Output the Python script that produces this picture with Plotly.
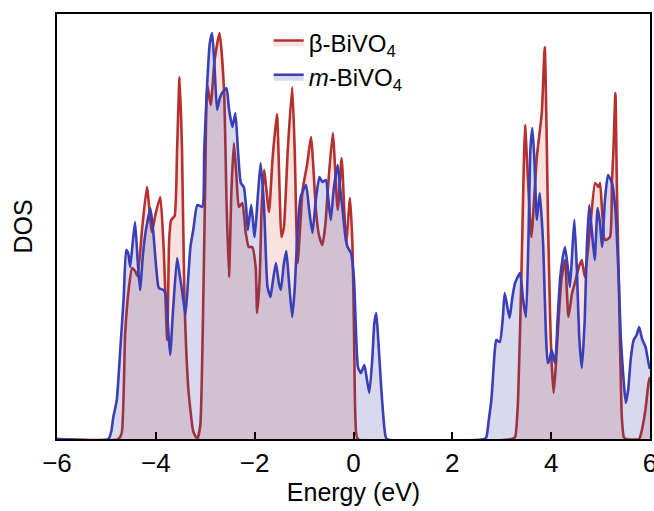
import plotly.graph_objects as go

# beta-BiVO4 density of states (energy in eV, DOS in arb. units)
beta_energy = [
    -6.00, -4.76, -4.69, -4.62, -4.55, -4.48, -4.42, -4.37, -4.28, -4.18,
    -4.08, -4.01, -3.91, -3.84, -3.77, -3.73, -3.69, -3.62, -3.57, -3.52,
    -3.47, -3.42, -3.34, -3.24, -3.16, -3.10, -3.05, -3.00, -2.96, -2.89,
    -2.81, -2.71, -2.62, -2.57, -2.52, -2.47, -2.42, -2.37, -2.32, -2.25,
    -2.18, -2.12, -2.05, -1.98, -1.95, -1.90, -1.86, -1.81, -1.71, -1.64,
    -1.55, -1.49, -1.46, -1.41, -1.33, -1.24, -1.19, -1.13, -1.03, -0.94,
    -0.86, -0.76, -0.70, -0.63, -0.57, -0.52, -0.42, -0.32, -0.24, -0.15,
    -0.07, -0.02, 0.01, 0.04, 0.09,
    3.20, 3.27, 3.33, 3.40, 3.44, 3.47, 3.53, 3.60, 3.71, 3.81,
    3.87, 3.94, 3.98, 4.01, 4.05, 4.09, 4.15, 4.21, 4.28, 4.35,
    4.42, 4.48, 4.56, 4.62, 4.68, 4.79, 4.89, 4.96, 4.99, 5.09,
    5.19, 5.23, 5.26, 5.30, 5.33, 5.37, 5.43, 5.47, 5.51, 5.78,
    5.84, 5.91, 5.97, 6.00,
]
beta_dos = [
    0.00, 0.00, 0.06, 1.06, 1.49, 1.71, 1.68, 1.63, 2.09, 2.52,
    2.07, 2.24, 2.42, 1.89, 0.99, 1.99, 2.19, 2.23, 2.89, 3.62,
    2.89, 1.39, 0.49, 0.07, 0.00, 0.14, 1.09, 2.59, 3.54, 3.34,
    3.79, 4.06, 3.49, 2.39, 1.62, 2.49, 2.96, 2.64, 2.32, 2.36,
    2.06, 1.92, 1.92, 1.72, 1.26, 1.59, 2.29, 2.69, 2.27, 2.79,
    3.25, 2.39, 2.02, 2.11, 2.89, 3.52, 2.89, 1.76, 2.49, 2.74,
    3.02, 2.29, 2.04, 1.94, 2.14, 2.49, 3.06, 2.29, 2.81, 1.96,
    2.41, 1.92, 1.09, 0.19, 0.00,
    0.00, 0.02, 0.39, 1.70, 2.60, 3.14, 2.60, 2.02, 2.82, 3.26,
    3.92, 2.09, 1.20, 0.76, 0.46, 0.70, 1.20, 1.60, 1.79, 1.22,
    1.45, 1.56, 1.72, 1.79, 1.62, 2.12, 2.56, 2.52, 2.56, 1.99,
    2.02, 2.56, 2.89, 3.46, 2.50, 1.56, 0.22, 0.02, 0.00, 0.00,
    0.10, 0.30, 0.56, 0.62,
]

# m-BiVO4 density of states
m_energy = [
    -6.00, -4.96, -4.90, -4.86, -4.79, -4.72, -4.65, -4.60, -4.56, -4.52,
    -4.47, -4.42, -4.37, -4.32, -4.26, -4.21, -4.11, -4.05, -3.99, -3.94,
    -3.84, -3.79, -3.75, -3.71, -3.65, -3.57, -3.52, -3.47, -3.40, -3.34,
    -3.30, -3.24, -3.16, -3.06, -3.02, -2.96, -2.91, -2.86, -2.81, -2.76,
    -2.71, -2.66, -2.57, -2.52, -2.45, -2.39, -2.34, -2.28, -2.22, -2.17,
    -2.14, -2.07, -2.00, -1.94, -1.88, -1.81, -1.74, -1.68, -1.64, -1.57,
    -1.51, -1.47, -1.41, -1.36, -1.31, -1.24, -1.19, -1.13, -1.07, -0.96,
    -0.90, -0.83, -0.76, -0.69, -0.63, -0.56, -0.51, -0.46, -0.40, -0.32,
    -0.27, -0.22, -0.17, -0.12, -0.05, 0.01, 0.09, 0.15, 0.22, 0.27,
    0.32, 0.38, 0.42, 0.46, 0.50, 0.56, 0.63, 0.67,
    2.65, 2.69, 2.74, 2.79, 2.86, 2.89, 2.96, 3.02, 3.06, 3.12,
    3.16, 3.21, 3.27, 3.37, 3.43, 3.49, 3.54, 3.58, 3.62, 3.66,
    3.71, 3.77, 3.84, 3.89, 3.93, 3.97, 4.01, 4.08, 4.13, 4.18,
    4.23, 4.28, 4.34, 4.38, 4.43, 4.47, 4.52, 4.57, 4.62, 4.68,
    4.72, 4.77, 4.82, 4.88, 4.94, 4.99, 5.03, 5.09, 5.15, 5.23,
    5.30, 5.37, 5.41, 5.47, 5.51, 5.56, 5.61, 5.67, 5.73, 5.78,
    5.84, 5.91, 5.97, 6.00,
]
m_dos = [
    0.00, 0.00, 0.08, 0.22, 0.39, 0.89, 1.42, 1.89, 1.86, 1.72,
    1.95, 2.17, 1.80, 1.49, 1.85, 2.06, 2.31, 2.06, 1.70, 1.51,
    1.49, 1.42, 1.10, 0.84, 1.30, 1.81, 1.65, 1.49, 1.24, 1.65,
    1.92, 2.10, 2.34, 2.32, 2.90, 3.56, 3.95, 4.06, 3.70, 3.29,
    3.40, 3.46, 3.51, 3.30, 3.12, 3.26, 2.90, 2.56, 2.52, 2.30,
    2.09, 2.34, 2.02, 2.40, 2.76, 2.32, 1.52, 1.42, 1.55, 1.76,
    1.56, 1.49, 1.75, 1.88, 1.60, 1.22, 1.50, 2.10, 2.42, 2.54,
    2.30, 2.06, 2.40, 2.62, 2.57, 2.59, 2.40, 2.19, 2.50, 2.74,
    2.50, 2.29, 2.05, 1.92, 1.86, 1.60, 0.72, 0.66, 0.74, 0.60,
    0.46, 0.80, 1.15, 1.26, 1.00, 0.52, 0.09, 0.00,
    0.00, 0.02, 0.20, 0.39, 0.89, 0.99, 0.97, 1.20, 1.46, 1.30,
    1.21, 1.40, 1.56, 1.66, 1.40, 1.22, 2.00, 2.90, 3.11, 2.80,
    2.19, 2.46, 1.92, 1.10, 0.76, 0.80, 0.89, 0.76, 1.20, 1.60,
    1.80, 1.92, 1.70, 1.52, 1.90, 2.19, 1.70, 1.00, 0.71, 1.20,
    1.90, 2.34, 2.10, 1.79, 2.31, 2.15, 1.92, 2.40, 2.64, 2.56,
    2.29, 1.56, 1.00, 0.56, 0.36, 0.50, 0.80, 0.99, 1.04, 1.12,
    1.00, 0.92, 0.76, 0.70,
]

x_ticks = [-6, -4, -2, 0, 2, 4, 6]

red = "#b5302e"
blue = "#3a3fb8"
font = "Liberation Sans, Arial, Helvetica, sans-serif"

fig = go.Figure()
fig.add_trace(go.Scatter(
    x=beta_energy, y=beta_dos, mode="lines", name="β-BiVO<sub>4</sub>",
    line=dict(color=red, width=2.6, shape="spline", smoothing=0.5),
    fill="tozeroy", fillcolor="rgba(200,60,50,0.15)",
))
fig.add_trace(go.Scatter(
    x=m_energy, y=m_dos, mode="lines", name="<i>m</i>-BiVO<sub>4</sub>",
    line=dict(color=blue, width=2.6, shape="spline", smoothing=0.5),
    fill="tozeroy", fillcolor="rgba(60,65,160,0.2)",
))

fig.update_layout(
    width=654, height=511,
    margin=dict(l=57, r=4, t=14, b=72, autoexpand=False),
    paper_bgcolor="white", plot_bgcolor="white",
    font=dict(family=font, size=22, color="black"),
    showlegend=True,
    legend=dict(x=0.357, y=0.985, xanchor="left", yanchor="top",
                bgcolor="rgba(0,0,0,0)", font=dict(size=24),
                tracegroupgap=0),
)
fig.update_xaxes(
    range=[-6, 6], tickvals=x_ticks, ticks="inside", ticklen=7, tickwidth=1.5,
    tickcolor="black", showline=True, linecolor="black", linewidth=2,
    mirror=True, showgrid=False, zeroline=False, automargin=False,
    ticklabeloverflow="allow",
    tickfont=dict(size=26), title=dict(text="Energy (eV)", font=dict(size=25), standoff=3),
)
fig.update_yaxes(
    range=[0, 4.25], showticklabels=False, ticks="", showline=True,
    linecolor="black", linewidth=2, mirror=True, showgrid=False, zeroline=False,
    automargin=False, title=dict(text="DOS", font=dict(size=25), standoff=15),
)

# drop the default body margin so the figure fills the window exactly
fig.write_html(
    "out.html",
    config={"displayModeBar": False},
    post_script="document.body.style.margin='0';document.body.style.overflow='hidden';",
)
